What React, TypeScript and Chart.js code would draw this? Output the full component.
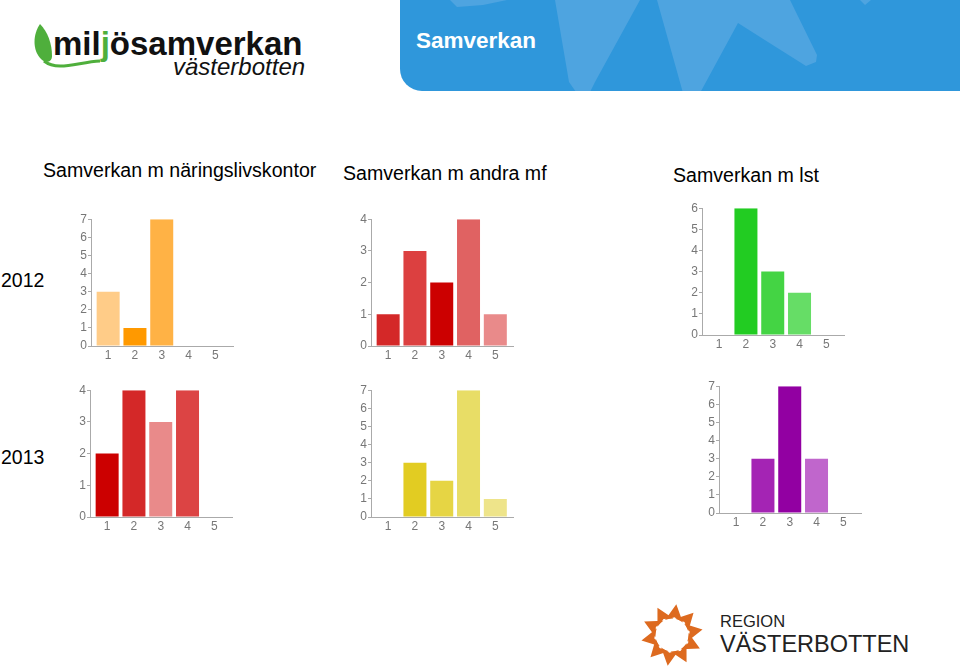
import React, { useEffect, useRef } from 'react';
import { Chart, registerables } from 'chart.js';

Chart.register(...registerables);

// ---- data ----
const answerLabels = [1, 2, 3, 4, 5];
const columnTitles = ['Samverkan m näringslivskontor', 'Samverkan m andra mf', 'Samverkan m lst'];
const yearLabels = ['2012', '2013'];

const naring2012 = [3, 1, 7, 0, 0];
const andra2012 = [1, 3, 2, 4, 1];
const lst2012 = [0, 6, 3, 2, 0];
const naring2013 = [2, 4, 3, 4, 0];
const andra2013 = [0, 3, 2, 7, 1];
const lst2013 = [0, 3, 7, 3, 0];

const axisMax2012 = [7, 4, 6];
const axisMax2013 = [4, 7, 7];

const naring2012Colors = ['#FFCC88', '#FF9900', '#FFB245', '#FFC060', '#FFD699'];
const andra2012Colors = ['#D42828', '#DC4040', '#CC0000', '#E06262', '#E98A8A'];
const lst2012Colors = ['#22CC22', '#22CC22', '#44D444', '#66DD66', '#88E588'];
const naring2013Colors = ['#CC0000', '#D42828', '#E98A8A', '#DC4444', '#E06262'];
const andra2013Colors = ['#E0CC22', '#E2CC22', '#E6D544', '#E8DD66', '#EEE48A'];
const lst2013Colors = ['#A424B4', '#A424B4', '#9200A2', '#C066CC', '#C888D4'];

// ---- layout (y-axis line x, top tick y) ----
const panels = [
  { values: naring2012, colors: naring2012Colors, max: axisMax2012[0], ax: 91, ty: 219 },
  { values: andra2012, colors: andra2012Colors, max: axisMax2012[1], ax: 371, ty: 219 },
  { values: lst2012, colors: lst2012Colors, max: axisMax2012[2], ax: 702, ty: 208 },
  { values: naring2013, colors: naring2013Colors, max: axisMax2013[0], ax: 90, ty: 390 },
  { values: andra2013, colors: andra2013Colors, max: axisMax2013[1], ax: 371, ty: 390 },
  { values: lst2013, colors: lst2013Colors, max: axisMax2013[2], ax: 719, ty: 386 },
];

const FONT = '"Liberation Sans", Arial, sans-serif';
const AXIS_W = 22;
const PAD_TOP = 8;
const PAD_RIGHT = 6;
const PLOT_W = 142;
const PLOT_H = 127;
const XAXIS_H = 20;
const CW = AXIS_W + PLOT_W + PAD_RIGHT;
const CH = PAD_TOP + PLOT_H + XAXIS_H;

function MiniBar({ values, colors, max, ax, ty }: any) {
  const ref = useRef<HTMLCanvasElement>(null);
  useEffect(() => {
    const chart = new Chart(ref.current as HTMLCanvasElement, {
      type: 'bar',
      data: {
        datasets: [
          {
            data: values.map((v: number, i: number) => ({ x: answerLabels[i], y: v })),
            backgroundColor: colors,
            borderWidth: 0,
            barThickness: 23,
            inflateAmount: 0,
          } as any,
        ],
      },
      options: {
        animation: false,
        responsive: false,
        devicePixelRatio: 1,
        layout: { padding: { top: PAD_TOP, right: PAD_RIGHT, left: 0, bottom: 0 } },
        plugins: { legend: { display: false }, tooltip: { enabled: false } },
        scales: {
          x: {
            type: 'linear',
            offset: false,
            min: 0.36,
            max: 5.66,
            afterBuildTicks: (s: any) => {
              s.ticks = answerLabels.map((v) => ({ value: v }));
            },
            afterFit: (s: any) => {
              s.height = XAXIS_H;
            },
            grid: { display: false, drawTicks: false, offset: false },
            border: { display: true, color: '#aaaaaa', width: 1 },
            ticks: { padding: 2, color: '#777777', font: { family: FONT, size: 12 } },
          },
          y: {
            min: 0,
            max: max,
            afterFit: (s: any) => {
              s.width = AXIS_W;
            },
            grid: { display: true, drawOnChartArea: false, drawTicks: true, tickLength: 3, color: '#aaaaaa' },
            border: { display: true, color: '#aaaaaa', width: 1 },
            ticks: { stepSize: 1, padding: 1, color: '#777777', font: { family: FONT, size: 12 } },
          },
        },
      } as any,
    });
    return () => chart.destroy();
  }, []);
  return (
    <canvas
      ref={ref}
      width={CW}
      height={CH}
      style={{ position: 'absolute', left: ax - AXIS_W, top: ty - PAD_TOP, width: CW, height: CH }}
    />
  );
}

function T({ x, b, size, children, style }: any) {
  return (
    <div
      style={{
        position: 'absolute',
        left: x,
        top: b - size * 0.8465,
        fontSize: size,
        lineHeight: `${size}px`,
        fontFamily: FONT,
        whiteSpace: 'nowrap',
        color: '#000',
        ...style,
      }}
    >
      {children}
    </div>
  );
}

function OrangeMark() {
  const darts = [];
  for (let i = 0; i < 10; i++) {
    darts.push(
      <polygon key={i} points="0,-31 9,-14 0,-18 -9,-14" fill="#DD6A1F" transform={`rotate(${i * 36 + 8})`} />
    );
  }
  return (
    <svg width={80} height={70} style={{ position: 'absolute', left: 632, top: 600 }}>
      <g transform="translate(40,35)">{darts}</g>
    </svg>
  );
}

export default function App() {
  return (
    <div
      style={{
        position: 'absolute',
        left: 0,
        top: 0,
        width: 960,
        height: 668,
        overflow: 'hidden',
        background: '#ffffff',
      }}
    >
      {/* header panel */}
      <svg width={560} height={93} style={{ position: 'absolute', left: 400, top: 0 }}>
        <defs>
          <clipPath id="hdr">
            <path d="M0,0 H560 V91 H22 A22,22 0 0 1 0,69 Z" />
          </clipPath>
        </defs>
        <g clipPath="url(#hdr)">
          <rect x={0} y={0} width={560} height={93} fill="#2F97DB" />
          <polygon points="50,0 57,7 83,5 107,0" fill="#4EA4E0" />
          <polygon points="155,0 169,82 176,92 190,92 195,82 240,0" fill="#4EA4E0" />
          <polygon points="257,0 283,93 300,93 338,23 406,66 416,62 417,55 390,0" fill="#4EA4E0" />
          <polygon points="460,0 465,5 471,0" fill="#4EA4E0" />
        </g>
      </svg>
      <T x={416} b={49.3} size={22.5} style={{ color: '#fff', fontWeight: 'bold' }}>
        Samverkan
      </T>

      {/* logo top-left */}
      <svg width={120} height={80} style={{ position: 'absolute', left: 0, top: 0 }}>
        <path d="M40,24 C33,34 32,50 41,59 C46,64 52,62 52,56 C52,44 48,32 40,24 Z" fill="#4FAF3C" />
        <path d="M44,61 C58,72 78,62 100,61" stroke="#4FAF3C" strokeWidth={3} fill="none" />
      </svg>
      <T x={53} b={55} size={33} style={{ fontWeight: 'bold', color: '#111' }}>
        mil<span style={{ color: '#4FAF3C' }}>j</span>ösamverkan
      </T>
      <T x={173} b={75} size={24} style={{ fontStyle: 'italic', color: '#111' }}>
        västerbotten
      </T>

      {/* column titles */}
      <T x={43} b={177.3} size={19.6}>{columnTitles[0]}</T>
      <T x={343} b={180.3} size={19.6}>{columnTitles[1]}</T>
      <T x={673} b={182.3} size={19.6}>{columnTitles[2]}</T>

      {/* year labels */}
      <T x={1} b={287.3} size={19.5}>{yearLabels[0]}</T>
      <T x={1} b={465} size={19.5}>{yearLabels[1]}</T>

      {panels.map((p, i) => (
        <MiniBar key={i} {...p} />
      ))}

      {/* bottom right logo */}
      <OrangeMark />
      <T x={720} b={627.3} size={16.5} style={{ color: '#222' }}>REGION</T>
      <T x={720} b={653.3} size={23.5} style={{ color: '#222' }}>VÄSTERBOTTEN</T>
    </div>
  );
}
